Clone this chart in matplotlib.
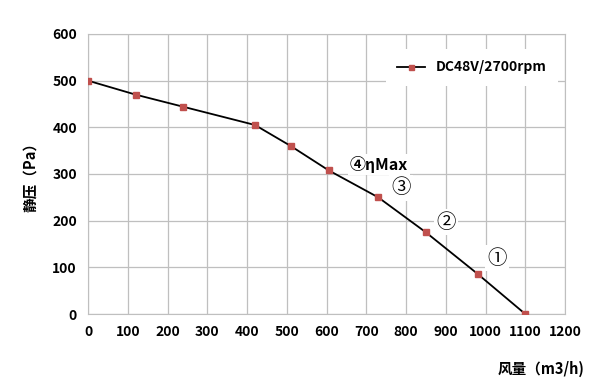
import matplotlib
matplotlib.use("Agg")
import matplotlib.pyplot as plt

plt.rcParams["font.family"] = ["Noto Sans CJK SC", "DejaVu Sans"]

flow = [0, 120, 240, 420, 510, 605, 730, 850, 980, 1100]
pressure = [500, 470, 444, 405, 360, 308, 250, 175, 86, 0]

series_label = "DC48V/2700rpm"
point_labels = ["④ηMax", "③", "②", "①"]
label_x = [732, 787, 900, 1028]
label_y = [320, 270, 197, 120]

fig = plt.figure(figsize=(6, 3.88), dpi=100)
ax = fig.add_axes([0.1467, 0.1907, 0.795, 0.7217])

ax.plot(flow, pressure, color="black", linewidth=1.3, marker="s",
        markersize=4.5, markerfacecolor="#C0504D", markeredgecolor="#C0504D",
        label=series_label, zorder=3)

for txt, tx, ty in zip(point_labels, label_x, label_y):
    is_max = "Max" in txt
    ax.text(tx, ty, txt, ha="center", va="center",
            fontsize=11.5 if is_max else 14,
            fontweight="bold" if is_max else "normal",
            bbox=dict(facecolor="white", edgecolor="none", pad=1.5), zorder=4)

ax.set_xlim(0, 1200)
ax.set_ylim(0, 600)
ax.set_xticks(range(0, 1201, 100))
ax.set_yticks(range(0, 601, 100))
ax.grid(True, color="#BFBFBF", linewidth=0.9)
ax.set_axisbelow(True)
for s in ax.spines.values():
    s.set_color("#BFBFBF")
ax.tick_params(length=0, labelsize=10, pad=8)
for lab in ax.get_xticklabels() + ax.get_yticklabels():
    lab.set_fontweight("bold")

ax.set_ylabel("静压（Pa）", fontsize=10.5, fontweight="bold", labelpad=10)
fig.text(0.975, 0.05, "风量（m3/h)", ha="right", va="center", fontsize=10.5, fontweight="bold")

leg = ax.legend(loc="upper right", bbox_to_anchor=(1.0, 0.97), frameon=True,
                fancybox=False, edgecolor="none", framealpha=1.0,
                handlelength=2.0, borderpad=0.8, markerscale=0.8,
                prop={"weight": "bold", "size": 10})

fig.savefig("out.png", dpi=100)
